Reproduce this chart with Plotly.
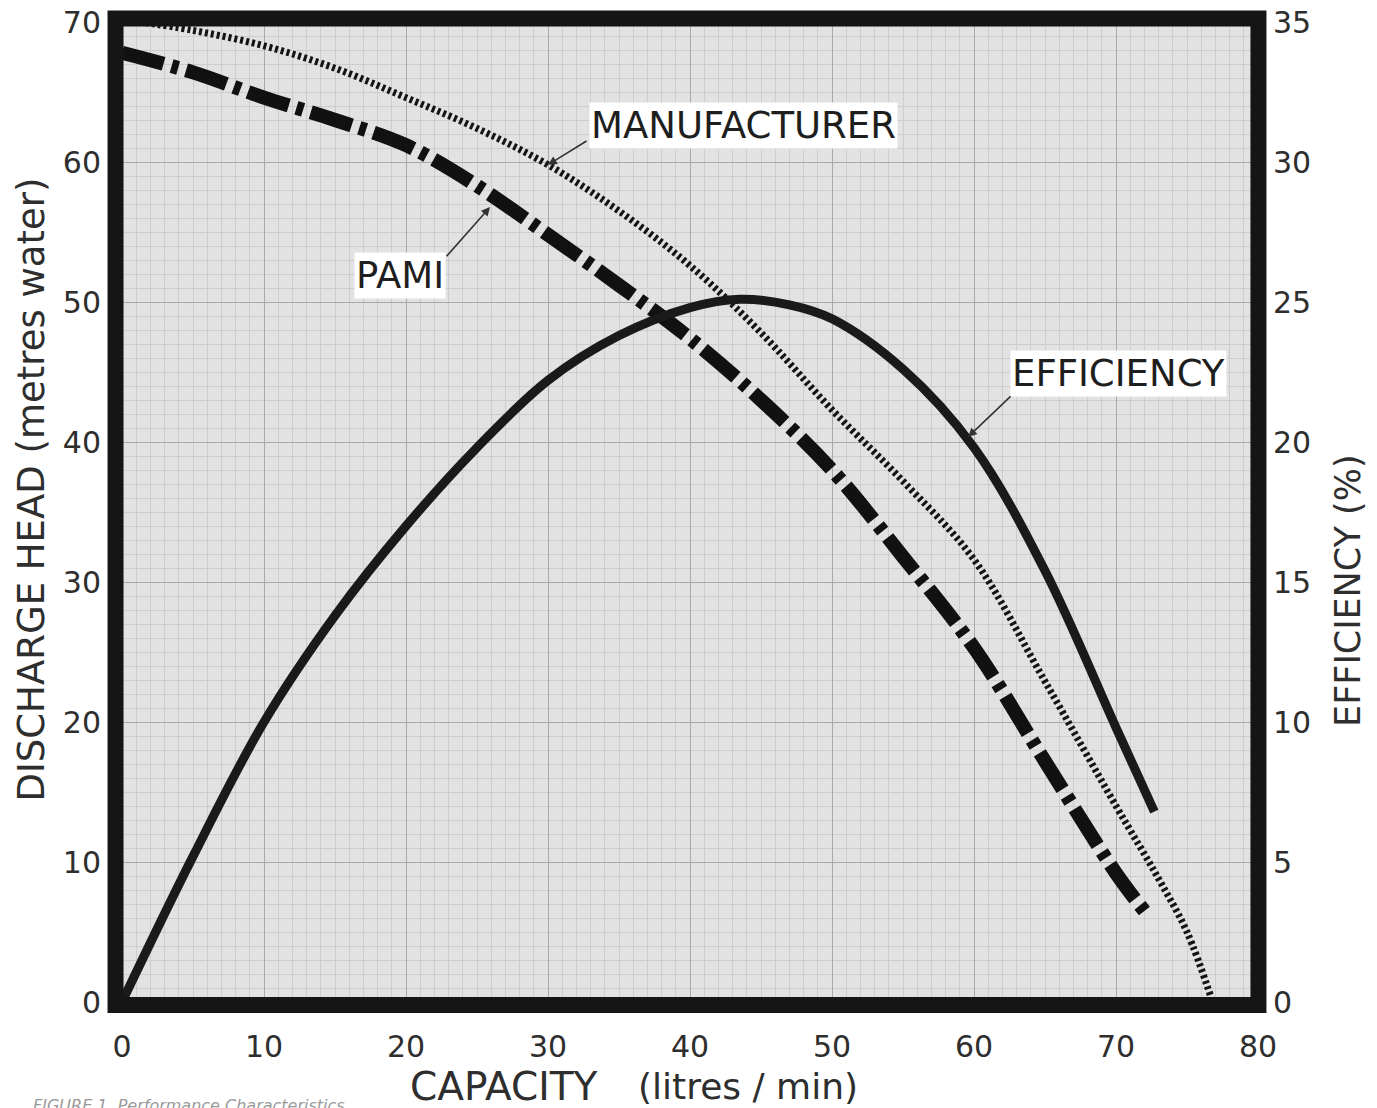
import plotly.graph_objects as go

# ---------------- data ----------------
capacity_mfr = [0, 5, 10, 15, 20, 25, 30, 35, 40, 45, 50, 55, 60, 65, 70, 73, 75, 76.8]
head_mfr = [70.2, 69.4, 68.3, 66.7, 64.6, 62.4, 59.8, 56.5, 52.6, 47.8, 42.3, 37.2, 31.6, 22.9, 14.0, 8.8, 5.0, 0.0]

capacity_pami = [0, 5, 10, 15, 20, 25, 30, 35, 40, 45, 50, 55, 60, 65, 70, 72]
head_pami = [67.8, 66.4, 64.6, 63.0, 61.2, 58.3, 54.8, 51.2, 47.4, 43.0, 38.0, 31.8, 25.3, 17.2, 9.2, 6.5]

capacity_eff = [0, 5, 10, 15, 20, 25, 30, 35, 40, 43.5, 47, 50, 55, 60, 65, 70, 72.7]
efficiency = [0, 5.2, 10.0, 13.8, 17.0, 19.8, 22.2, 23.8, 24.8, 25.1, 24.9, 24.4, 22.6, 19.8, 15.4, 9.8, 6.8]

x_ticks = [0, 10, 20, 30, 40, 50, 60, 70, 80]
y_ticks = [0, 10, 20, 30, 40, 50, 60, 70]
y2_ticks = [0, 5, 10, 15, 20, 25, 30, 35]

FONT = "DejaVu Sans, Liberation Sans, Arial, sans-serif"
TXT = "#2e2e2e"

fig = go.Figure()

fig.add_trace(go.Scatter(
    x=capacity_mfr, y=head_mfr, mode="lines", name="MANUFACTURER",
    line=dict(color="#141414", width=7, dash="3px,3px", shape="spline"),
    showlegend=False, hoverinfo="skip"))

fig.add_trace(go.Scatter(
    x=capacity_pami, y=head_pami, mode="lines", name="PAMI",
    line=dict(color="#111111", width=14, dash="43px,8px,7px,8px", shape="spline"),
    showlegend=False, hoverinfo="skip"))

fig.add_trace(go.Scatter(
    x=capacity_eff, y=efficiency, mode="lines", name="EFFICIENCY", yaxis="y2",
    line=dict(color="#1a1a1a", width=9, shape="spline"),
    showlegend=False, hoverinfo="skip"))

grid_major = "#a9a9a9"
grid_minor = "#cdcdcd"

# the page body adds an 8px offset; the figure is sized so the plot lands at
# x 122..1258 and y 22..1002 in the window
fig.update_layout(
    width=1369, height=1100,
    margin=dict(l=114, r=119, t=14, b=106, autoexpand=False),
    paper_bgcolor="white",
    plot_bgcolor="#e2e2e2",
    font=dict(family=FONT, color=TXT),
    xaxis=dict(
        range=[0, 80], tickvals=x_ticks, showgrid=True, gridcolor=grid_major, gridwidth=1,
        minor=dict(dtick=1, tick0=0, showgrid=True, gridcolor=grid_minor, gridwidth=1),
        zeroline=False, showline=False, ticks="", automargin=False, ticklabeloverflow="allow",
        tickfont=dict(size=30, family=FONT, color=TXT), ticklabelstandoff=24),
    yaxis=dict(
        range=[0, 70], tickvals=y_ticks, showgrid=True, gridcolor=grid_major, gridwidth=1,
        minor=dict(dtick=1, tick0=0, showgrid=True, gridcolor=grid_minor, gridwidth=1),
        zeroline=False, showline=False, ticks="", automargin=False, ticklabeloverflow="allow",
        tickfont=dict(size=30, family=FONT, color=TXT), ticklabelstandoff=20),
    yaxis2=dict(
        range=[0, 35], tickvals=y2_ticks, overlaying="y", side="right", showgrid=False,
        zeroline=False, showline=False, ticks="", automargin=False, ticklabeloverflow="allow",
        tickfont=dict(size=30, family=FONT, color=TXT), ticklabelstandoff=14),
)

# heavy frame (inner edge roughly at the plot edge, as in the reference)
fig.add_shape(type="rect", xref="paper", yref="paper",
              x0=-0.0057, x1=1.0004, y0=-0.003, y1=1.0036,
              line=dict(color="#151515", width=16), layer="above")

# curve labels with arrows
label_font = dict(size=37, family=FONT, color="#1e1e1e")
arrow_style = dict(showarrow=True, arrowhead=2, arrowsize=1.1, arrowwidth=1.6, arrowcolor="#333")

fig.add_annotation(x=43.8, y=62.64, xref="x", yref="y", text="MANUFACTURER",
                   xanchor="center", yanchor="middle",
                   showarrow=False, font=label_font, bgcolor="white", borderpad=1)
fig.add_annotation(x=30.0, y=59.8, ax=32.82, ay=61.57, xref="x", yref="y",
                   axref="x", ayref="y", text=" ", font=dict(size=1), **arrow_style)

fig.add_annotation(x=19.58, y=51.86, xref="x", yref="y", text="PAMI",
                   xanchor="center", yanchor="middle",
                   showarrow=False, font=label_font, bgcolor="white", borderpad=1)
fig.add_annotation(x=25.92, y=56.79, ax=22.75, ay=53.14, xref="x", yref="y",
                   axref="x", ayref="y", text=" ", font=dict(size=1), **arrow_style)

fig.add_annotation(x=70.21, y=44.86, xref="x", yref="y", text="EFFICIENCY",
                   xanchor="center", yanchor="middle",
                   showarrow=False, font=label_font, bgcolor="white", borderpad=1)
fig.add_annotation(x=59.58, y=40.36, ax=62.68, ay=43.36, xref="x", yref="y",
                   axref="x", ayref="y", text=" ", font=dict(size=1), **arrow_style)

# axis titles
fig.add_annotation(x=-0.0805, y=0.5224, xref="paper", yref="paper",
                   xanchor="center", yanchor="middle",
                   text="DISCHARGE HEAD (metres water)", textangle=-90, showarrow=False,
                   font=dict(size=37, family=FONT, color=TXT))
fig.add_annotation(x=1.0792, y=0.4204, xref="paper", yref="paper",
                   xanchor="center", yanchor="middle",
                   text="EFFICIENCY (%)", textangle=-90, showarrow=False,
                   font=dict(size=35, family=FONT, color=TXT))
fig.add_annotation(x=0.3354, y=-0.0867, xref="paper", yref="paper",
                   xanchor="center", yanchor="middle",
                   text="CAPACITY", showarrow=False,
                   font=dict(size=39, family=FONT, color=TXT))
fig.add_annotation(x=0.551, y=-0.0867, xref="paper", yref="paper",
                   xanchor="center", yanchor="middle",
                   text="(litres / min)", showarrow=False,
                   font=dict(size=36, family=FONT, color=TXT))

# partially visible caption at the very bottom
fig.add_annotation(x=-0.08, y=-0.0939, xref="paper", yref="paper", xanchor="left", yanchor="top",
                   text="<i>FIGURE 1. Performance Characteristics</i>", showarrow=False,
                   font=dict(size=16, family=FONT, color="#9a9a9a"))

fig.write_html("out.html")
